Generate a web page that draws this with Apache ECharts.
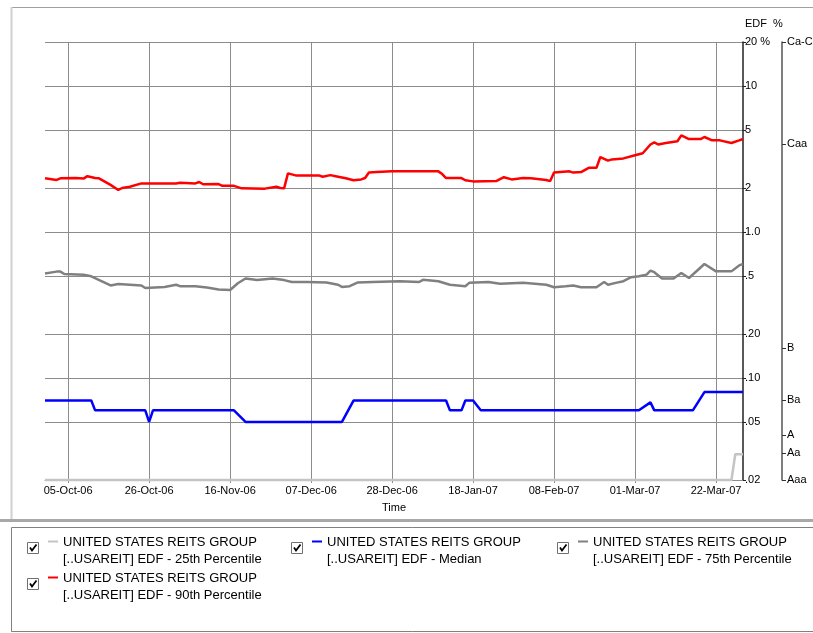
<!DOCTYPE html>
<html><head><meta charset="utf-8">
<script src="https://cdn.jsdelivr.net/npm/echarts@6/dist/echarts.min.js"></script>
<style>html,body{margin:0;padding:0;background:#fff}#c{width:813px;height:633px}</style>
</head><body><div id="c"></div>
<script>
// ---- axis definitions ----
const startDate = '2006-09-29';
const endDate = '2007-03-29';
const xTickDates = ['2006-10-05','2006-10-26','2006-11-16','2006-12-07','2006-12-28','2007-01-18','2007-02-08','2007-03-01','2007-03-22'];
const edfTicks = [0.02, 0.05, 0.1, 0.2, 0.5, 1, 2, 5, 10, 20];
const edfTickLabels = ['.02', '.05', '.10', '.20', '.5', '1.0', '2', '5', '10', '20 %'];
const ratingTicks = [20, 4.0, 0.16, 0.0706, 0.0407, 0.0306, 0.02];
const ratingLabels = ['Ca-C', 'Caa', 'B', 'Ba', 'A', 'Aa', 'Aaa'];

// ---- series ----
const seriesNames = [
  ['UNITED STATES REITS GROUP', '[..USAREIT] EDF - 25th Percentile'],
  ['UNITED STATES REITS GROUP', '[..USAREIT] EDF - Median'],
  ['UNITED STATES REITS GROUP', '[..USAREIT] EDF - 75th Percentile'],
  ['UNITED STATES REITS GROUP', '[..USAREIT] EDF - 90th Percentile']
];
const seriesColors = ['#c4c4c4', '#0000ff', '#808080', '#ff0000'];

const p25Dates = ['2006-09-29','2007-03-26','2007-03-27','2007-03-29'];
const p25Values = [0.02, 0.02, 0.03, 0.03];

const medDates = ['2006-09-29','2006-10-11','2006-10-12','2006-10-25','2006-10-26','2006-10-27','2006-11-17','2006-11-20','2006-12-15','2006-12-18',
  '2007-01-11','2007-01-12','2007-01-15','2007-01-16','2007-01-18','2007-01-20','2007-03-02','2007-03-05','2007-03-06','2007-03-16','2007-03-19','2007-03-29'];
const medValues = [0.07,0.07,0.06,0.06,0.05,0.06,0.06,0.05,0.05,0.07,
  0.07,0.06,0.06,0.07,0.07,0.06,0.06,0.068,0.06,0.06,0.08,0.08];

const p75Dates = ['2006-09-29','2006-10-02','2006-10-03','2006-10-04','2006-10-09','2006-10-11','2006-10-16','2006-10-18','2006-10-24','2006-10-25',
  '2006-10-30','2006-11-02','2006-11-03','2006-11-07','2006-11-10','2006-11-13','2006-11-16','2006-11-18','2006-11-20','2006-11-23',
  '2006-11-27','2006-11-30','2006-12-02','2006-12-06','2006-12-11','2006-12-14','2006-12-15','2006-12-17','2006-12-19','2006-12-23',
  '2006-12-30','2007-01-04','2007-01-05','2007-01-09','2007-01-12','2007-01-16','2007-01-17','2007-01-22','2007-01-25','2007-01-31',
  '2007-02-06','2007-02-08','2007-02-11','2007-02-13','2007-02-15','2007-02-19','2007-02-21','2007-02-22','2007-02-24','2007-02-26',
  '2007-02-28','2007-03-02','2007-03-04','2007-03-05','2007-03-06','2007-03-08','2007-03-11','2007-03-13','2007-03-15','2007-03-19',
  '2007-03-22','2007-03-26','2007-03-28','2007-03-29'];
const p75Values = [0.52,0.535,0.535,0.515,0.51,0.497,0.43,0.44,0.43,0.413,
  0.42,0.435,0.425,0.425,0.416,0.403,0.40,0.445,0.48,0.468,
  0.48,0.468,0.454,0.454,0.45,0.435,0.42,0.425,0.45,0.454,
  0.46,0.454,0.47,0.46,0.435,0.425,0.448,0.454,0.442,0.448,
  0.435,0.418,0.425,0.43,0.418,0.418,0.454,0.435,0.448,0.46,
  0.49,0.497,0.51,0.543,0.53,0.48,0.48,0.524,0.484,0.603,
  0.537,0.537,0.59,0.603];

const p90Dates = ['2006-09-29','2006-10-02','2006-10-03','2006-10-07','2006-10-09','2006-10-10','2006-10-12','2006-10-13','2006-10-16','2006-10-18',
  '2006-10-19','2006-10-21','2006-10-24','2006-11-02','2006-11-03','2006-11-07','2006-11-08','2006-11-09','2006-11-13','2006-11-14',
  '2006-11-17','2006-11-19','2006-11-25','2006-11-28','2006-11-29','2006-11-30','2006-12-01','2006-12-03','2006-12-09','2006-12-10',
  '2006-12-12','2006-12-14','2006-12-16','2006-12-18','2006-12-20','2006-12-21','2006-12-22','2006-12-24','2006-12-28','2007-01-09',
  '2007-01-10','2007-01-11','2007-01-15','2007-01-16','2007-01-18','2007-01-24','2007-01-26','2007-01-28','2007-01-31','2007-02-02',
  '2007-02-06','2007-02-07','2007-02-08','2007-02-12','2007-02-13','2007-02-15','2007-02-17','2007-02-19','2007-02-20','2007-02-22',
  '2007-02-23','2007-02-26','2007-03-01','2007-03-03','2007-03-05','2007-03-06','2007-03-07','2007-03-09','2007-03-12','2007-03-13',
  '2007-03-15','2007-03-18','2007-03-19','2007-03-21','2007-03-23','2007-03-26','2007-03-28','2007-03-29'];
const p90Values = [2.33,2.27,2.33,2.34,2.32,2.41,2.34,2.33,2.10,1.94,
  2.00,2.04,2.15,2.15,2.17,2.15,2.20,2.12,2.13,2.07,
  2.07,1.99,1.98,2.04,2.00,1.99,2.52,2.44,2.44,2.39,
  2.45,2.39,2.33,2.26,2.29,2.34,2.55,2.57,2.60,2.60,
  2.49,2.34,2.34,2.26,2.22,2.23,2.37,2.29,2.34,2.33,
  2.27,2.23,2.55,2.60,2.55,2.57,2.75,2.75,3.26,3.08,
  3.14,3.19,3.35,3.46,3.97,4.11,3.97,4.07,4.18,4.59,
  4.33,4.33,4.47,4.24,4.24,4.07,4.24,4.33];

// ---- helpers ----
const DAY = 86400000;
const MON = ['Jan','Feb','Mar','Apr','May','Jun','Jul','Aug','Sep','Oct','Nov','Dec'];
function dayNum(s) { const p = s.split('-').map(Number); return Date.UTC(p[0], p[1] - 1, p[2]) / DAY; }
function fmtDay(v) {
  const d = new Date(Math.round(v) * DAY);
  const dd = String(d.getUTCDate()).padStart(2, '0');
  return dd + '-' + MON[d.getUTCMonth()] + '-' + String(d.getUTCFullYear()).slice(2);
}
function nearestLabel(v, ticks, labels) {
  let best = 0, bd = Infinity;
  for (let i = 0; i < ticks.length; i++) {
    const d = Math.abs(Math.log10(v) - Math.log10(ticks[i]));
    if (d < bd) { bd = d; best = i; }
  }
  return labels[best];
}
function pairs(dates, vals) { return dates.map((d, i) => [dayNum(d), vals[i]]); }

const FONT = 'Liberation Sans';
const GRID_C = '#8c8c8c';
const seriesData = [pairs(p25Dates, p25Values), pairs(medDates, medValues), pairs(p75Dates, p75Values), pairs(p90Dates, p90Values)];

// ---- legend drawn as graphics ----
const legendPos = [[27, 541], [291, 541], [557, 541], [27, 577]];
const graphics = [
  { type: 'line', shape: { x1: 11, y1: 7.5, x2: 813, y2: 7.5 }, style: { stroke: '#a0a0a0', lineWidth: 1 }, silent: true },
  { type: 'line', shape: { x1: 11.5, y1: 7, x2: 11.5, y2: 519 }, style: { stroke: '#d0d0d0', lineWidth: 2 }, silent: true },
  { type: 'line', shape: { x1: 0, y1: 520.5, x2: 813, y2: 520.5 }, style: { stroke: '#a8a8a8', lineWidth: 3 }, silent: true },
  { type: 'rect', shape: { x: 11.5, y: 527.5, width: 810, height: 104 }, style: { fill: 'none', stroke: '#808080', lineWidth: 1 }, silent: true }
];
seriesNames.forEach((nm, i) => {
  const [lx, ly] = legendPos[i];
  graphics.push({ type: 'rect', shape: { x: lx + 0.5, y: ly + 1.5, width: 11, height: 11 }, style: { fill: '#fff', stroke: '#707070', lineWidth: 1 }, silent: true });
  graphics.push({ type: 'polyline', shape: { points: [[lx + 3, ly + 6.5], [lx + 5, ly + 9.5], [lx + 9.5, ly + 3.5]] }, style: { stroke: '#000', lineWidth: 1.8, fill: 'none' }, silent: true });
  graphics.push({ type: 'line', shape: { x1: lx + 21, y1: ly + 0.5, x2: lx + 31, y2: ly + 0.5 }, style: { stroke: seriesColors[i], lineWidth: 2 }, silent: true });
  graphics.push({ type: 'text', x: lx + 36, y: ly + 1, style: { text: nm[0], fontSize: 13, fontFamily: FONT, fill: '#000', verticalAlign: 'middle', align: 'left' }, silent: true });
  graphics.push({ type: 'text', x: lx + 36, y: ly + 18, style: { text: nm[1], fontSize: 13, fontFamily: FONT, fill: '#000', verticalAlign: 'middle', align: 'left' }, silent: true });
});

const chart = echarts.init(document.getElementById('c'), null, { renderer: 'canvas' });
chart.setOption({
  animation: false,
  backgroundColor: '#fff',
  grid: { left: 45, right: 70, top: 42, bottom: 153, containLabel: false, outerBoundsMode: 'none' },
  xAxis: {
    type: 'value',
    min: dayNum(startDate), max: dayNum(endDate),
    name: 'Time', nameLocation: 'middle', nameGap: 22,
    nameTextStyle: { fontFamily: FONT, fontSize: 11, color: '#000' },
    axisLine: { show: true, lineStyle: { color: GRID_C, width: 1 } },
    axisTick: { show: true, length: 3, lineStyle: { color: GRID_C }, customValues: xTickDates.map(dayNum) },
    axisLabel: { fontFamily: FONT, fontSize: 11, color: '#000', margin: 5, customValues: xTickDates.map(dayNum), formatter: fmtDay },
    splitLine: { show: true, lineStyle: { color: GRID_C, width: 1 } }
  },
  yAxis: [
    {
      type: 'log', logBase: 10, min: 0.02, max: 20, position: 'right',
      name: 'EDF  %', nameLocation: 'end', nameGap: 18,
      nameTextStyle: { fontFamily: FONT, fontSize: 11, color: '#000', align: 'left', verticalAlign: 'middle', padding: [4, 0, 0, 2] },
      axisLine: { show: true, lineStyle: { color: '#222', width: 1.5 } },
      axisTick: { show: true, length: 3, inside: false, lineStyle: { color: '#222' }, customValues: edfTicks },
      axisLabel: { fontFamily: FONT, fontSize: 11, color: '#000', margin: 2, customValues: edfTicks,
        formatter: v => nearestLabel(v, edfTicks, edfTickLabels) },
      splitLine: { show: true, lineStyle: { color: GRID_C, width: 1 } }
    },
    {
      type: 'log', logBase: 10, min: 0.02, max: 20, position: 'right', offset: 39,
      axisLine: { show: true, lineStyle: { color: '#555', width: 1.5 } },
      axisTick: { show: true, length: 4, lineStyle: { color: '#333', width: 1 }, customValues: ratingTicks },
      axisLabel: { fontFamily: FONT, fontSize: 11, color: '#000', margin: 5, customValues: ratingTicks,
        formatter: v => nearestLabel(v, ratingTicks, ratingLabels) },
      splitLine: { show: false }
    }
  ],
  series: seriesData.map((d, i) => ({
    name: seriesNames[i].join(' '),
    type: 'line', data: d, yAxisIndex: 0,
    showSymbol: false, symbol: 'none',
    lineStyle: { color: seriesColors[i], width: 2.5 },
    itemStyle: { color: seriesColors[i] },
    z: 5 + i, clip: false
  })),
  graphic: { elements: graphics }
});
</script></body></html>
